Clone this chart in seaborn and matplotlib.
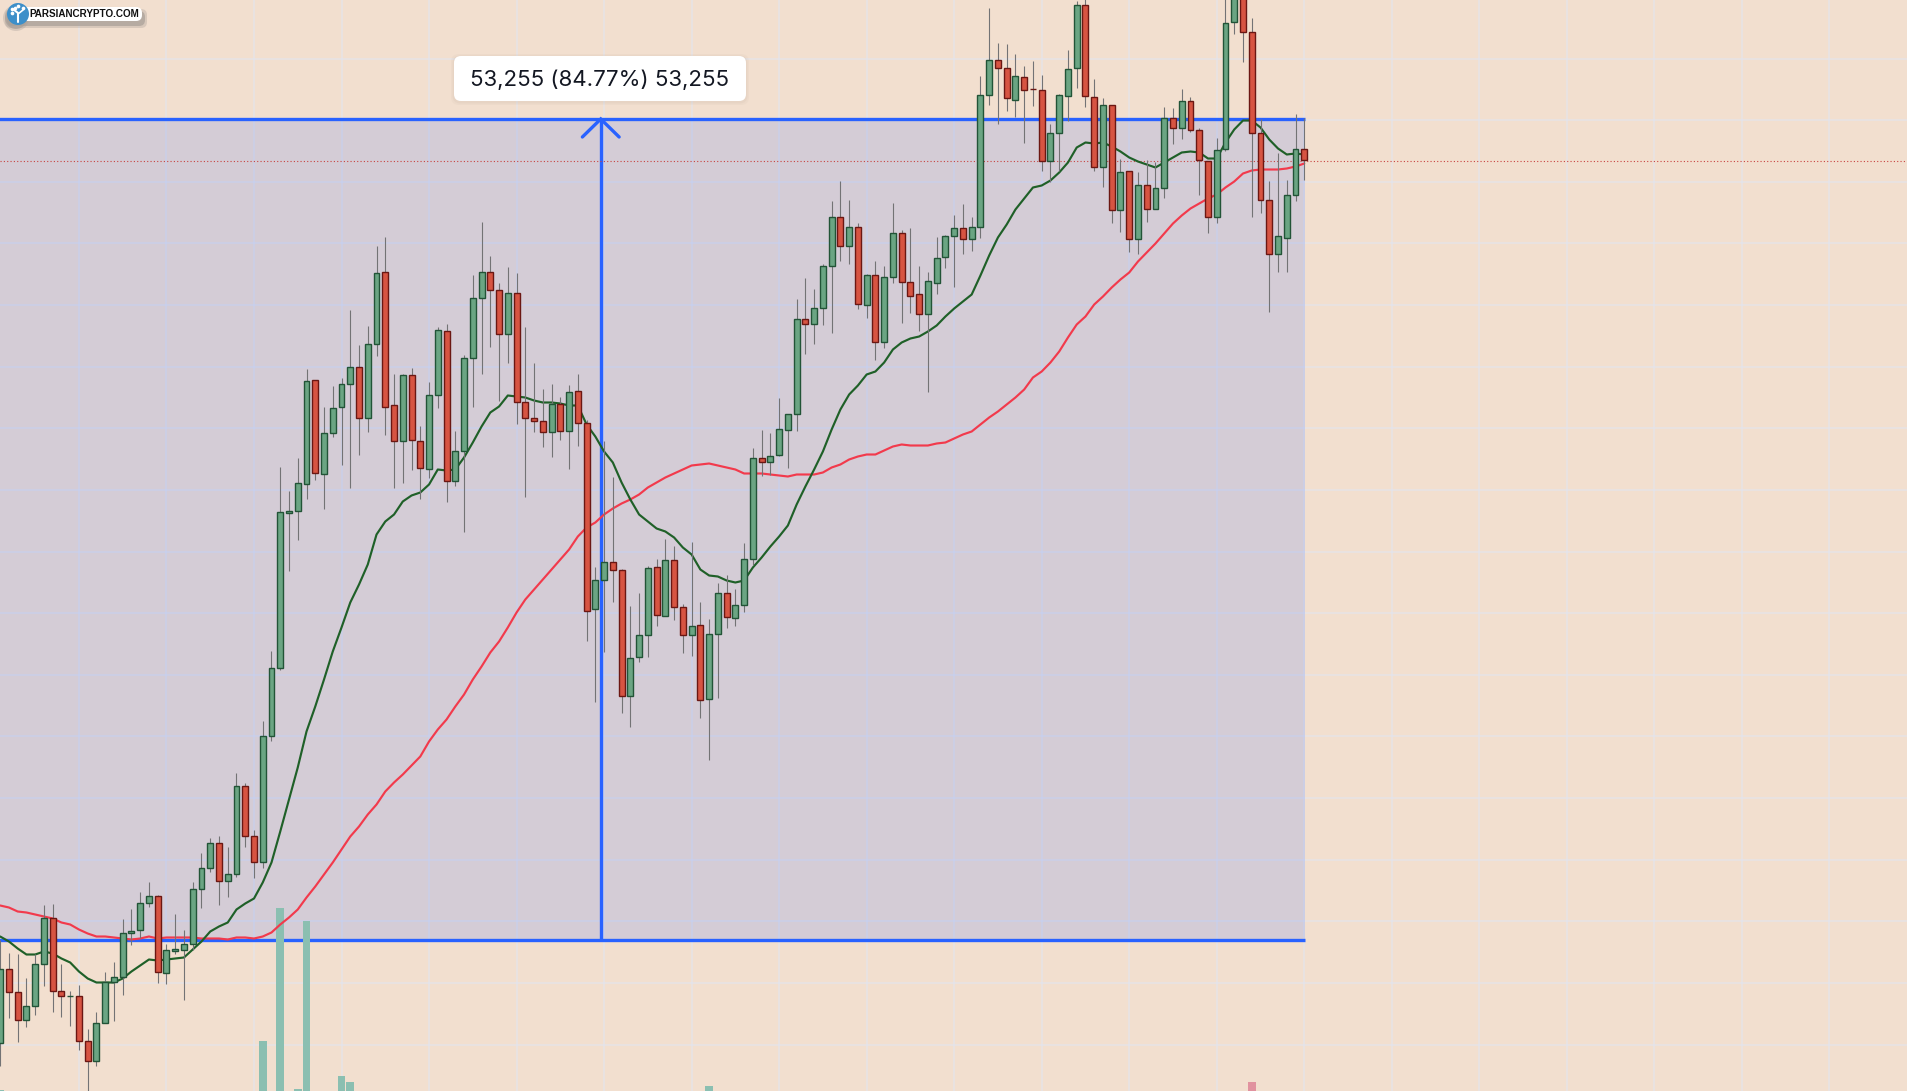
import numpy as np
import pandas as pd
import seaborn as sns
import matplotlib
matplotlib.use("Agg")
import matplotlib.pyplot as plt
from matplotlib.patches import FancyBboxPatch, Circle

# Measured move shown on the chart
RANGE_USD = 53255
RANGE_PCT = 84.77
RANGE_LABEL = "53,255 (84.77%) 53,255"
WATERMARK = "PARSIANCRYPTO.COM"

# Candles in chart points above the low of the measured range
opens = [-103,-29,-52,-80,-66,-24,22,-51,-56,-56,
         -101,-121,-83,-42,-37,7,10,37,44,-33,
         -11,-10,-4,51,72,97,59,66,154,104,
         78,203,272,427,429,456,559,465,507,532,
         555,573,522,596,668,534,498,564,499,471,
         545,609,459,489,582,642,668,649,606,647,
         538,522,519,508,536,509,548,516,330,359,
         378,370,244,282,305,372,324,380,333,305,
         315,241,306,347,322,335,381,482,478,484,
         510,525,620,616,632,674,723,694,712,635,
         665,598,663,707,658,645,625,657,682,703,
         711,701,712,845,880,871,839,863,851,850,
         778,806,844,871,934,843,772,834,730,768,
         701,755,731,752,822,811,838,809,779,723,
         791,918,945,908,806,740,685,702,744,791]
highs = [0,-13,-14,-38,-14,35,36,-24,-51,-45,
         -89,-72,-32,-22,21,31,48,58,45,-4,
         26,10,58,87,102,104,93,167,157,110,
         219,289,473,449,482,571,559,533,554,562,
         630,595,614,694,703,566,566,572,514,558,
         613,616,509,585,665,718,684,657,673,667,
         613,577,551,556,543,555,566,520,373,499,
         463,371,334,347,374,381,401,394,336,398,
         338,321,357,365,351,397,492,510,507,542,
         526,641,662,651,676,739,759,740,717,666,
         679,674,737,710,712,674,668,703,705,725,
         736,723,864,932,897,896,886,874,879,865,
         816,846,890,939,950,861,842,835,781,769,
         768,780,778,833,832,851,843,812,779,802,
         945,960,950,922,821,759,787,760,826,822]
lows = [-126,-78,-102,-87,-75,-46,-72,-77,-86,-110,
        -155,-126,-83,-81,-55,-5,2,33,-43,-44,
        -14,-60,-10,32,68,35,43,63,93,62,
        72,199,270,369,400,441,460,431,503,475,
        452,485,508,584,505,452,457,470,441,462,
        532,438,454,408,533,566,593,539,577,516,
        443,508,493,483,500,471,494,299,238,288,
        338,227,213,278,283,314,324,320,287,284,
        222,180,242,312,314,328,375,464,465,484,
        472,509,586,596,615,607,679,676,631,622,
        580,592,657,617,627,609,548,646,672,653,
        686,689,702,835,816,829,823,797,834,769,
        758,769,819,852,833,769,753,717,708,688,
        686,718,731,742,796,801,808,745,707,717,
        789,906,878,723,727,628,668,668,739,760]
closes = [-29,-52,-80,-66,-24,22,-51,-56,-56,-101,
          -121,-83,-42,-37,7,9,37,44,-32,-10,
          -9,-4,51,72,97,59,66,154,104,78,
          203,272,428,429,457,559,466,507,532,555,
          573,522,596,667,533,498,564,499,472,545,
          609,459,489,582,642,668,649,606,647,538,
          522,519,508,536,509,548,516,328,359,377,
          370,244,282,305,372,325,380,333,305,314,
          240,306,347,323,335,381,482,478,484,511,
          525,620,616,632,674,723,694,712,636,665,
          598,663,707,658,644,625,658,682,703,711,
          701,712,845,880,871,841,864,850,850.5,778,
          806,844,871,934,843,772,834,730,768,701,
          755,731,751,822,811,838,809,779,723,790,
          917,955,908,806,740,685,703,744,791,779]

# Moving averages, one reading per candle
ma_fast = [3,-2,-9,-15,-15,-12,-14,-19,-23,-32,
           -39,-43,-43,-43,-39,-32,-26,-20,-21,-20,
           -19,-18,-10,-2,8,13,17,30,36,41,
           57,77,108,140,172,208,233,260,288,312,
           337,355,375,405,418,425,438,444,447,455,
           470,469,470,482,497,513,527,533,544,543,
           542,539,537,537,536,534,534,515,503,488,
           477,457,440,425,418,411,408,402,392,385,
           370,364,363,359,357,359,372,382,393,403,
           414,435,453,470,488,510,530,545,554,565,
           568,577,590,597,601,603,608,614,623,631,
           638,645,664,684,702,715,730,741,752,754,
           759,767,777,792,797,796,797,793,788,782,
           778,775,772,777,782,787,788,787,781,781,
           797,810,819,819,812,800,791,785,786,785]
ma_slow = [34,32,28,27,25,23,21,17,15,10,
           6,3,3,2,1,0,1,3,1,2,
           2,2,2,1,1,1,0,2,2,1,
           3,7,15,22,30,42,53,65,77,90,
           103,113,125,135,148,157,165,174,183,198,
           210,220,233,245,260,273,287,298,312,327,
           340,350,360,370,380,390,403,412,417,425,
           431,436,440,445,452,457,462,466,470,474,
           475,476,474,472,470,466,466,466,465,464,
           463,465,465,465,467,472,475,480,483,485,
           485,489,493,495,494,494,494,496,497,501,
           505,508,515,522,528,535,542,550,562,568,
           577,588,602,615,623,635,643,652,660,667,
           678,687,696,706,716,724,731,736,741,745,
           752,758,766,769,770,770,770,771,773,776]

# Volume bars visible at the foot of the pane
volume_bars = [0,30,32,34,35,39,40,81,143]
volume_vals = [1,50,183,2,170,15,9,5,9]

sns.set_theme(style="white")
plt.rcParams["font.family"] = ["Inter", "DejaVu Sans"]

PEACH = "#F2DFCF"
BLUE = "#2962FF"
UP, UP_EDGE = "#6BA583", "#225437"
DOWN, DOWN_EDGE = "#D75442", "#6B1713"

range_low = RANGE_USD / (RANGE_PCT / 100)
range_high = range_low + RANGE_USD
usd_per_point = RANGE_USD / 820.5


def usd(points):
    return range_low + np.asarray(points, dtype=float) * usd_per_point


bars = np.arange(len(closes))
candles = pd.DataFrame({"bar": bars, "open": usd(opens), "high": usd(highs),
                        "low": usd(lows), "close": usd(closes),
                        "fast": usd(ma_fast), "slow": usd(ma_slow)})
rising = candles["close"] >= candles["open"]
y_bottom, y_top = usd(-151.5), usd(939.5)
x_left, x_right = -0.02, 217.98

fig = plt.figure(figsize=(19.08, 10.91), dpi=100, facecolor=PEACH)
ax = fig.add_axes([0, 0, 1, 1], facecolor=PEACH)
ax.set_xlim(x_left, x_right)
ax.set_ylim(y_bottom, y_top)

# Price and time grid, under the shaded range
for bar in range(9, 219, 10):
    ax.axvline(bar, color="#E0E6F5", alpha=0.6, lw=1.1, zorder=1)
for level in range(56000, 124000, 4000):
    ax.axhline(level, color="#E0E6F5", alpha=0.6, lw=1.1, zorder=1)

# Measured range: shaded block, edges and arrow
ax.fill_between([-1, 149.05], range_low, range_high, color=BLUE, alpha=0.15,
                lw=0, zorder=1.5)
ax.hlines([range_low, range_high], -1, 149.05, color=BLUE, lw=2.4, zorder=2)
measure_bar = 68.62
ax.vlines(measure_bar, range_low, range_high, color=BLUE, lw=2.4, zorder=2)
arm_w, arm_h = 2.1, 18 * usd_per_point
ax.plot([measure_bar - arm_w, measure_bar, measure_bar + arm_w],
        [range_high - arm_h, range_high, range_high - arm_h],
        color=BLUE, lw=2.4, solid_joinstyle="miter", zorder=2)

# Volume
vol_colors = ["#E1929F" if b == 143 else "#8BBFB1" for b in volume_bars]
ax.bar(volume_bars, np.array(volume_vals) * usd_per_point, bottom=y_bottom,
       width=0.88, color=vol_colors, lw=0, zorder=2.5)

# Last-price line
ax.axhline(candles["close"].iloc[-1], color="#C8423F", lw=0.8,
           ls=(0, (1, 2)), zorder=2.7)

# Moving averages
sns.lineplot(data=candles, x="bar", y="slow", color="#F23A4C", lw=1.55,
             ax=ax, zorder=3, estimator=None, legend=False)
sns.lineplot(data=candles, x="bar", y="fast", color="#1F6028", lw=1.55,
             ax=ax, zorder=3.1, estimator=None, legend=False)

# Candles
ax.vlines(candles["bar"], candles["low"], candles["high"], color="#737375",
          lw=0.8, zorder=3.5)
body_low = candles[["open", "close"]].min(axis=1)
body_size = (candles["close"] - candles["open"]).abs()
ax.bar(candles["bar"], body_size, bottom=body_low, width=0.68,
       color=[UP if r else DOWN for r in rising],
       edgecolor=[UP_EDGE if r else DOWN_EDGE for r in rising],
       lw=1.0, zorder=4)

ax.set_xlim(x_left, x_right)
ax.set_ylim(y_bottom, y_top)
ax.set_xlabel("")
ax.set_ylabel("")
ax.set_xticks([])
ax.set_yticks([])
sns.despine(ax=ax, left=True, bottom=True)

# Overlay layer for the label and watermark, scaled in figure pixels
overlay = fig.add_axes([0, 0, 1, 1])
overlay.set_xlim(0, 1908)
overlay.set_ylim(1091, 0)
overlay.axis("off")
overlay.patch.set_alpha(0)


def rounded(x0, y0, x1, y1, radius, **kw):
    overlay.add_patch(FancyBboxPatch((x0 + radius, y0 + radius),
                                     x1 - x0 - 2 * radius, y1 - y0 - 2 * radius,
                                     boxstyle=f"round,pad={radius},rounding_size={radius}",
                                     lw=0, **kw))


# Range label
for grow, alpha in ((3, 0.05), (1.5, 0.07)):
    rounded(454 - grow, 56 - grow + 1, 746 + grow, 101 + grow + 1, 8,
            facecolor="#9A8A80", alpha=alpha)
rounded(454, 56, 746, 101, 7, facecolor="white")
overlay.text(600, 79.5, RANGE_LABEL, ha="center", va="center", fontsize=16.05,
             color="#131722", family=["Inter", "DejaVu Sans"])

# Watermark
for grow, alpha in ((2, 0.35), (0, 0.7)):
    rounded(7 - grow, 11 - grow, 145 + grow, 26 + grow, 6,
            facecolor="#A89F98", alpha=alpha)
    overlay.add_patch(Circle((16, 18), 11 + grow, facecolor="#A89F98",
                             alpha=alpha, lw=0))
rounded(22, 7, 142, 21, 6, facecolor="white")
overlay.add_patch(Circle((18, 14), 11, facecolor="#3D8FC9", lw=0))
overlay.plot([18, 18, 13], [22, 13, 9], color="white", lw=1.5)
overlay.plot([18, 23], [14, 10], color="white", lw=1.2)
overlay.scatter([12, 15, 18, 23, 12], [13, 8, 6, 8, 9], s=7, color="white", lw=0)
overlay.text(29, 14.3, WATERMARK, ha="left", va="center", fontsize=7.15,
             fontweight="bold", color="#101010", family=["Liberation Sans"])

fig.savefig("out.png", dpi=100, facecolor=PEACH)
